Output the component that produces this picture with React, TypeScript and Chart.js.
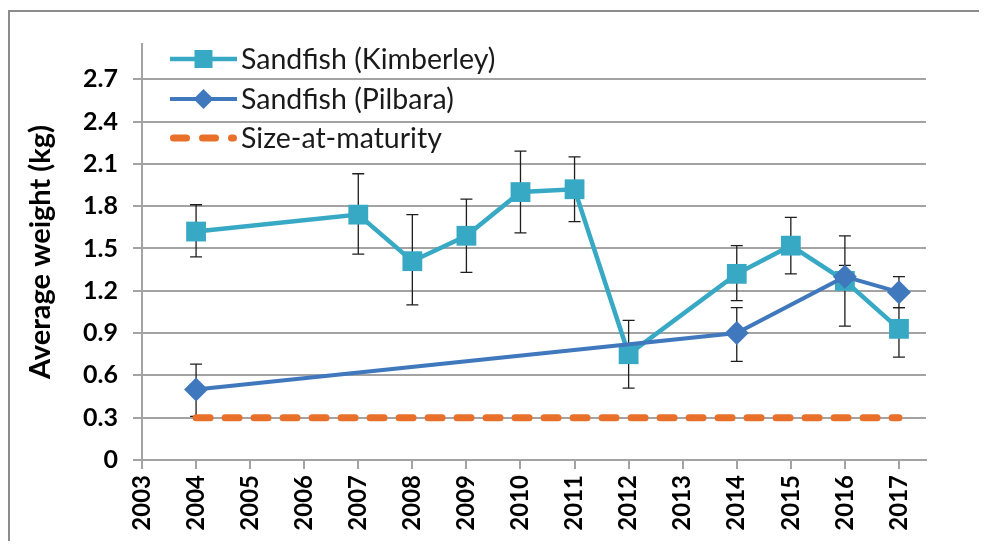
import React, { useEffect, useRef } from "react";
import { Chart, registerables } from "chart.js";

Chart.register(...registerables);

// ---- Data ----
const kimYears = [2004, 2007, 2008, 2009, 2010, 2011, 2012, 2014, 2015, 2016, 2017];
const kimMean = [1.62, 1.74, 1.41, 1.59, 1.9, 1.92, 0.75, 1.32, 1.52, 1.27, 0.93];
const kimUpper = [1.81, 2.03, 1.74, 1.85, 2.19, 2.15, 0.99, 1.52, 1.72, 1.59, 1.08];
const kimLower = [1.44, 1.46, 1.1, 1.33, 1.61, 1.69, 0.51, 1.13, 1.32, 0.95, 0.73];

const pilYears = [2004, 2014, 2016, 2017];
const pilMean = [0.5, 0.9, 1.3, 1.19];
const pilUpper = [0.68, 1.08, 1.38, 1.3];
const pilLower = [0.31, 0.7, 1.23, 1.08];

const maturityYears = [2004, 2017];
const maturityValue = [0.3, 0.3];

const xTickValues = [2003, 2004, 2005, 2006, 2007, 2008, 2009, 2010, 2011, 2012, 2013, 2014, 2015, 2016, 2017];
const yTickValues = [0, 0.3, 0.6, 0.9, 1.2, 1.5, 1.8, 2.1, 2.4, 2.7];
const yTickLabels = ["0", "0.3", "0.6", "0.9", "1.2", "1.5", "1.8", "2.1", "2.4", "2.7"];

const seriesNames = ["Sandfish (Kimberley)", "Sandfish (Pilbara)", "Size-at-maturity"];

const KIM = "#38A9C5";
const PIL = "#3F78BC";
const MAT = "#E8702A";
const GRID = "#a3a3a3";

const W = 979;
const H = 533;

const errorBarPlugin = {
  id: "errorBars",
  beforeDatasetsDraw(chart: any) {
    const ctx = chart.ctx;
    const xs = chart.scales.x;
    const ys = chart.scales.y;
    const sets = [
      { years: kimYears, up: kimUpper, lo: kimLower },
      { years: pilYears, up: pilUpper, lo: pilLower },
    ];
    ctx.save();
    ctx.strokeStyle = "#1e1e1e";
    ctx.lineWidth = 1.3;
    sets.forEach((s) => {
      s.years.forEach((yr, i) => {
        const x = xs.getPixelForValue(yr);
        const y1 = ys.getPixelForValue(s.up[i]);
        const y2 = ys.getPixelForValue(s.lo[i]);
        ctx.beginPath();
        ctx.moveTo(x, y1);
        ctx.lineTo(x, y2);
        ctx.moveTo(x - 6, y1);
        ctx.lineTo(x + 6, y1);
        ctx.moveTo(x - 6, y2);
        ctx.lineTo(x + 6, y2);
        ctx.stroke();
      });
    });
    ctx.restore();
  },
};

const legendPlugin = {
  id: "customLegend",
  afterDraw(chart: any) {
    const ctx = chart.ctx;
    const x0 = 162;
    const x1 = 229;
    const xm = (x0 + x1) / 2;
    const tx = 233;
    const rows = [51, 91, 130];
    ctx.save();
    // Kimberley
    ctx.strokeStyle = KIM;
    ctx.lineWidth = 4.5;
    ctx.beginPath();
    ctx.moveTo(x0, rows[0]);
    ctx.lineTo(x1, rows[0]);
    ctx.stroke();
    ctx.fillStyle = KIM;
    ctx.fillRect(xm - 9, rows[0] - 9, 18, 18);
    // Pilbara
    ctx.strokeStyle = PIL;
    ctx.lineWidth = 4;
    ctx.beginPath();
    ctx.moveTo(x0, rows[1]);
    ctx.lineTo(x1, rows[1]);
    ctx.stroke();
    ctx.fillStyle = PIL;
    ctx.beginPath();
    ctx.moveTo(xm, rows[1] - 10);
    ctx.lineTo(xm + 10, rows[1]);
    ctx.lineTo(xm, rows[1] + 10);
    ctx.lineTo(xm - 10, rows[1]);
    ctx.closePath();
    ctx.fill();
    // Maturity
    ctx.strokeStyle = MAT;
    ctx.lineWidth = 7;
    ctx.lineCap = "round";
    ctx.setLineDash([13, 16]);
    ctx.beginPath();
    ctx.moveTo(x0 + 3.5, rows[2]);
    ctx.lineTo(x1 - 3.5, rows[2]);
    ctx.stroke();
    ctx.setLineDash([]);
    // Text
    ctx.fillStyle = "#1a1a1a";
    ctx.font = "28.5px Lato";
    ctx.textBaseline = "middle";
    ctx.textAlign = "left";
    seriesNames.forEach((n, i) => ctx.fillText(n, tx, rows[i] + 1));
    ctx.restore();
  },
};

export default function App() {
  const ref = useRef<HTMLCanvasElement | null>(null);

  useEffect(() => {
    if (!ref.current) return;
    const chart = new Chart(ref.current, {
      type: "line",
      data: {
        datasets: [
          {
            label: seriesNames[0],
            data: kimYears.map((x, i) => ({ x, y: kimMean[i] })),
            borderColor: KIM,
            backgroundColor: KIM,
            borderWidth: 4.5,
            pointStyle: "rect",
            pointRadius: 14,
            pointBorderWidth: 0,
            pointBackgroundColor: KIM,
            tension: 0,
            order: 1,
          },
          {
            label: seriesNames[1],
            data: pilYears.map((x, i) => ({ x, y: pilMean[i] })),
            borderColor: PIL,
            backgroundColor: PIL,
            borderWidth: 4,
            pointStyle: "rectRot",
            pointRadius: 12,
            pointBorderWidth: 0,
            pointBackgroundColor: PIL,
            tension: 0,
            order: 0,
          },
          {
            label: seriesNames[2],
            data: maturityYears.map((x, i) => ({ x, y: maturityValue[i] })),
            borderColor: MAT,
            backgroundColor: MAT,
            borderWidth: 7,
            borderDash: [14, 15],
            borderCapStyle: "round",
            pointRadius: 0,
            tension: 0,
            order: 2,
          },
        ],
      },
      options: {
        responsive: false,
        animation: false,
        layout: { padding: { left: 0, top: 36, right: 61, bottom: 0 } },
        plugins: {
          legend: { display: false },
          tooltip: { enabled: false },
        },
        scales: {
          x: {
            type: "linear",
            min: 2003,
            max: 2017.5,
            afterBuildTicks: (s: any) => {
              s.ticks = xTickValues.map((v) => ({ value: v }));
            },
            afterFit: (s: any) => {
              s.height = H - 452;
            },
            ticks: {
              autoSkip: false,
              maxRotation: 90,
              minRotation: 90,
              padding: 6,
              color: "#000",
              font: { family: "Lato", size: 24, weight: "bold" },
              callback: (v: any) => String(v),
            },
            grid: {
              drawOnChartArea: false,
              drawTicks: true,
              tickLength: 9,
              color: GRID,
              lineWidth: 2,
            },
            border: { display: true, color: GRID, width: 2 },
          },
          y: {
            type: "linear",
            min: 0,
            max: 2.95,
            afterBuildTicks: (s: any) => {
              s.ticks = yTickValues.map((v) => ({ value: v }));
            },
            afterFit: (s: any) => {
              s.width = 134;
            },
            ticks: {
              padding: 15,
              color: "#000",
              font: { family: "Lato", size: 25, weight: "bold" },
              callback: (v: any) => {
                const idx = yTickValues.findIndex((t) => Math.abs(t - v) < 1e-6);
                return idx >= 0 ? yTickLabels[idx] : "";
              },
            },
            grid: {
              drawTicks: true,
              tickLength: 9,
              color: GRID,
              lineWidth: 2,
            },
            border: { display: true, color: GRID, width: 2 },
            title: {
              display: true,
              text: "Average weight (kg)",
              color: "#000",
              font: { family: "Lato", size: 29, weight: "bold" },
              padding: { top: 15, bottom: 0 },
            },
          },
        },
      },
      plugins: [errorBarPlugin, legendPlugin],
    });
    return () => chart.destroy();
  }, []);

  return (
    <div style={{ position: "relative", width: W, height: H }}>
      <canvas ref={ref} width={W} height={H} style={{ display: "block" }} />
      <div
        style={{
          position: "absolute",
          left: 0,
          top: 2,
          right: 0,
          bottom: -8,
          borderTop: "2px solid #8c8c8c",
          borderLeft: "2px solid #8c8c8c",
          pointerEvents: "none",
        }}
      />
    </div>
  );
}
